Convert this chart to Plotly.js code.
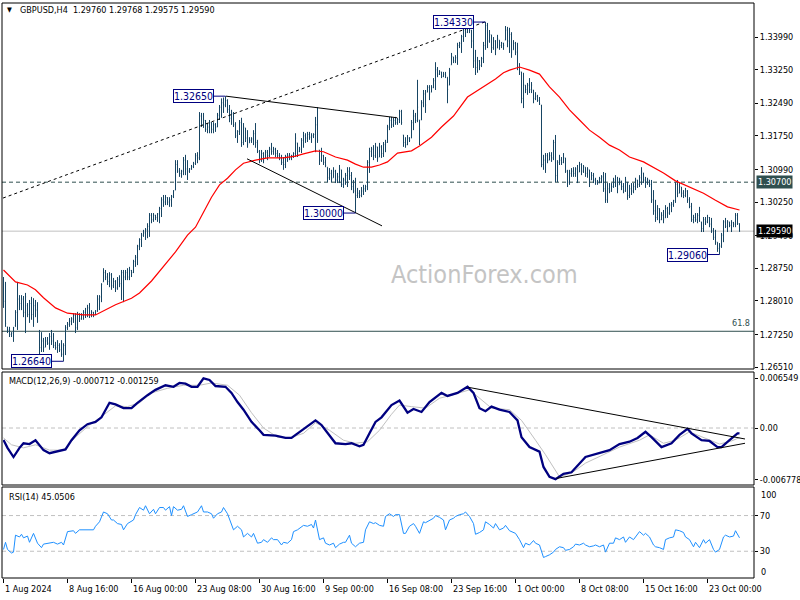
<!DOCTYPE html>
<html><head><meta charset="utf-8">
<script src="https://cdn.plot.ly/plotly-3.0.1.min.js"></script>
<style>html,body{margin:0;padding:0;background:#fff}#chart{width:800px;height:600px}</style>
</head><body><div id="chart"></div>
<script>
// ---------- DATA (GBPUSD H4, bar index 0 = 1 Aug 2024 00:00) ----------
const barOpen = [
1.2840,1.2800,1.2742,1.2735,1.2725,1.2728,1.2745,1.2775,1.2805,1.2795,
1.2805,1.2775,1.2790,1.2770,1.2795,1.2770,1.2790,1.2780,1.2730,1.2695,
1.2710,1.2696,1.2710,1.2705,1.2720,1.2710,1.2700,1.2695,1.2700,1.2690,
1.2680,1.2700,1.2740,1.2748,1.2755,1.2760,1.2768,1.2740,1.2770,1.2760,
1.2768,1.2775,1.2770,1.2785,1.2770,1.2775,1.2770,1.2778,1.2805,1.2810,
1.2844,1.2865,1.2855,1.2845,1.2860,1.2835,1.2845,1.2830,1.2850,1.2840,
1.2865,1.2855,1.2865,1.2855,1.2870,1.2865,1.2890,1.2900,1.2925,1.2940,
1.2950,1.2955,1.2962,1.2970,1.2995,1.2985,1.2995,1.2990,1.2998,1.3010,
1.3030,1.3025,1.3035,1.3025,1.3030,1.3038,1.3052,1.3110,1.3095,1.3090,
1.3095,1.3120,1.3100,1.3095,1.3100,1.3105,1.3112,1.3130,1.3125,1.3220,
1.3200,1.3210,1.3190,1.3195,1.3205,1.3190,1.3200,1.3195,1.3222,1.3240,
1.3250,1.3245,1.3255,1.3235,1.3215,1.3225,1.3200,1.3175,1.3185,1.3205,
1.3160,1.3193,1.3170,1.3159,1.3165,1.3168,1.3180,1.3160,1.3140,1.3120,
1.3135,1.3125,1.3138,1.3130,1.3145,1.3140,1.3145,1.3135,1.3130,1.3125,
1.3115,1.3110,1.3128,1.3130,1.3125,1.3130,1.3135,1.3159,1.3140,1.3145,
1.3165,1.3175,1.3170,1.3178,1.3172,1.3175,1.3178,1.3200,1.3143,1.3120,
1.3130,1.3115,1.3104,1.3080,1.3090,1.3080,1.3095,1.3075,1.3082,1.3098,
1.3065,1.3075,1.3085,1.3095,1.3085,1.3060,1.3050,1.3040,1.3045,1.3040,
1.3050,1.3055,1.3060,1.3115,1.3140,1.3145,1.3130,1.3150,1.3127,1.3150,
1.3135,1.3155,1.3160,1.3195,1.3210,1.3200,1.3210,1.3205,1.3212,1.3230,
1.3177,1.3160,1.3155,1.3170,1.3170,1.3205,1.3220,1.3210,1.3211,1.3211,
1.3250,1.3270,1.3274,1.3285,1.3274,1.3285,1.3300,1.3325,1.3315,1.3320,
1.3310,1.3315,1.3308,1.3290,1.3336,1.3354,1.3345,1.3352,1.3380,1.3385,
1.3400,1.3415,1.3410,1.3425,1.3415,1.3390,1.3345,1.3330,1.3345,1.3335,
1.3350,1.3380,1.3425,1.3390,1.3404,1.3375,1.3390,1.3374,1.3392,1.3380,
1.3385,1.3392,1.3415,1.3390,1.3405,1.3370,1.3385,1.3365,1.3330,1.3320,
1.3260,1.3290,1.3280,1.3290,1.3280,1.3279,1.3260,1.3265,1.3255,1.3245,
1.3110,1.3120,1.3130,1.3120,1.3130,1.3125,1.3160,1.3085,1.3115,1.3120,
1.3115,1.3125,1.3095,1.3070,1.3090,1.3095,1.3090,1.3100,1.3093,1.3110,
1.3095,1.3104,1.3090,1.3098,1.3075,1.3085,1.3075,1.3070,1.3068,1.3078,
1.3082,1.3055,1.3030,1.3055,1.3050,1.3060,1.3075,1.3070,1.3064,1.3073,
1.3060,1.3050,1.3070,1.3040,1.3055,1.3050,1.3060,1.3075,1.3065,1.3080,
1.3091,1.3075,1.3070,1.3075,1.3065,1.3030,1.3005,1.2990,1.3010,1.2985,
1.2995,1.2989,1.3010,1.3000,1.3018,1.3020,1.3028,1.3065,1.3045,1.3059,
1.3045,1.3040,1.3050,1.3030,1.3015,1.2985,1.2990,1.2985,1.2995,1.2980,
1.2965,1.2985,1.2980,1.2990,1.2975,1.2960,1.2945,1.2934,1.2920,1.2925,
1.2950,1.2980,1.2970,1.2980,1.2972,1.2978,1.2975,1.2995,1.2976];
const barHigh = [
1.2855,1.2844,1.2742,1.2742,1.2730,1.2742,1.2780,1.2844,1.2814,1.2814,
1.2812,1.2819,1.2796,1.2803,1.2810,1.2807,1.2803,1.2798,1.2735,1.2730,
1.2717,1.2719,1.2719,1.2728,1.2735,1.2728,1.2708,1.2712,1.2705,1.2712,
1.2705,1.2746,1.2753,1.2762,1.2764,1.2773,1.2773,1.2776,1.2773,1.2773,
1.2780,1.2785,1.2792,1.2796,1.2780,1.2776,1.2780,1.2814,1.2814,1.2841,
1.2875,1.2871,1.2864,1.2866,1.2864,1.2853,1.2848,1.2855,1.2859,1.2871,
1.2871,1.2871,1.2875,1.2878,1.2871,1.2894,1.2905,1.2928,1.2943,1.2955,
1.2962,1.2966,1.2977,1.3000,1.3000,1.3000,1.2996,1.3000,1.3014,1.3036,
1.3041,1.3041,1.3036,1.3036,1.3041,1.3052,1.3120,1.3120,1.3102,1.3098,
1.3127,1.3132,1.3120,1.3102,1.3109,1.3116,1.3136,1.3138,1.3229,1.3227,
1.3227,1.3211,1.3204,1.3211,1.3206,1.3206,1.3204,1.3227,1.3245,1.3260,
1.3262,1.3265,1.3258,1.3245,1.3234,1.3229,1.3206,1.3188,1.3211,1.3216,
1.3204,1.3193,1.3188,1.3172,1.3172,1.3188,1.3204,1.3166,1.3143,1.3143,
1.3138,1.3143,1.3143,1.3150,1.3159,1.3150,1.3148,1.3143,1.3136,1.3132,
1.3127,1.3132,1.3136,1.3136,1.3132,1.3138,1.3181,1.3159,1.3150,1.3170,
1.3184,1.3181,1.3184,1.3184,1.3181,1.3181,1.3218,1.3240,1.3143,1.3148,
1.3132,1.3127,1.3104,1.3102,1.3098,1.3104,1.3098,1.3091,1.3109,1.3098,
1.3080,1.3091,1.3104,1.3104,1.3093,1.3075,1.3080,1.3057,1.3052,1.3059,
1.3064,1.3064,1.3120,1.3148,1.3150,1.3154,1.3159,1.3150,1.3159,1.3154,
1.3161,1.3166,1.3200,1.3218,1.3218,1.3216,1.3218,1.3216,1.3234,1.3234,
1.3177,1.3172,1.3177,1.3172,1.3211,1.3234,1.3227,1.3302,1.3211,1.3256,
1.3279,1.3279,1.3290,1.3290,1.3290,1.3306,1.3342,1.3331,1.3324,1.3320,
1.3320,1.3320,1.3308,1.3329,1.3363,1.3354,1.3358,1.3386,1.3388,1.3404,
1.3420,1.3422,1.3431,1.3426,1.3415,1.3431,1.3370,1.3354,1.3347,1.3354,
1.3388,1.3433,1.3431,1.3415,1.3404,1.3399,1.3392,1.3404,1.3392,1.3388,
1.3386,1.3424,1.3422,1.3420,1.3410,1.3392,1.3388,1.3386,1.3340,1.3320,
1.3318,1.3290,1.3295,1.3306,1.3297,1.3279,1.3274,1.3268,1.3263,1.3245,
1.3132,1.3136,1.3136,1.3138,1.3138,1.3166,1.3177,1.3120,1.3132,1.3127,
1.3136,1.3125,1.3098,1.3098,1.3102,1.3104,1.3104,1.3109,1.3116,1.3113,
1.3109,1.3104,1.3104,1.3098,1.3093,1.3091,1.3080,1.3075,1.3082,1.3086,
1.3093,1.3091,1.3068,1.3068,1.3068,1.3080,1.3086,1.3082,1.3080,1.3073,
1.3068,1.3082,1.3070,1.3064,1.3068,1.3068,1.3080,1.3075,1.3086,1.3104,
1.3091,1.3082,1.3080,1.3075,1.3075,1.3052,1.3030,1.3018,1.3011,1.3002,
1.3007,1.3018,1.3014,1.3023,1.3025,1.3030,1.3070,1.3075,1.3068,1.3059,
1.3052,1.3057,1.3052,1.3036,1.3023,1.2996,1.3000,1.3000,1.3014,1.2980,
1.2991,1.2991,1.2996,1.2991,1.2989,1.2966,1.2962,1.2934,1.2932,1.2955,
1.2984,1.2989,1.2984,1.2980,1.2984,1.2980,1.3000,1.3000,1.29768];
const barLow = [
1.2785,1.2742,1.2728,1.2719,1.2719,1.2708,1.2742,1.2735,1.2780,1.2780,
1.2764,1.2728,1.2764,1.2751,1.2758,1.2742,1.2764,1.2751,1.2678,1.2685,
1.2685,1.2696,1.2701,1.2690,1.2701,1.2694,1.2690,1.2683,1.2685,1.2674,
1.2664,1.2678,1.2735,1.2742,1.2746,1.2751,1.2728,1.2735,1.2753,1.2758,
1.2758,1.2762,1.2764,1.2762,1.2764,1.2764,1.2769,1.2776,1.2780,1.2798,
1.2844,1.2848,1.2837,1.2832,1.2826,1.2830,1.2821,1.2826,1.2832,1.2803,
1.2798,1.2848,1.2848,1.2848,1.2855,1.2864,1.2878,1.2882,1.2916,1.2923,
1.2946,1.2939,1.2943,1.2946,1.2977,1.2980,1.2984,1.2980,1.2977,1.2991,
1.3014,1.3018,1.3018,1.3014,1.3014,1.3034,1.3052,1.3091,1.3082,1.3080,
1.3086,1.3086,1.3075,1.3091,1.3098,1.3102,1.3109,1.3113,1.3120,1.3195,
1.3193,1.3184,1.3181,1.3181,1.3181,1.3181,1.3184,1.3195,1.3211,1.3216,
1.3227,1.3240,1.3227,1.3206,1.3200,1.3195,1.3170,1.3159,1.3177,1.3150,
1.3154,1.3161,1.3148,1.3159,1.3159,1.3154,1.3148,1.3136,1.3113,1.3116,
1.3113,1.3125,1.3120,1.3127,1.3132,1.3132,1.3127,1.3125,1.3120,1.3109,
1.3098,1.3102,1.3116,1.3120,1.3120,1.3125,1.3127,1.3127,1.3138,1.3136,
1.3148,1.3159,1.3161,1.3166,1.3159,1.3170,1.3138,1.3159,1.3109,1.3116,
1.3109,1.3104,1.3070,1.3075,1.3070,1.3080,1.3068,1.3068,1.3068,1.3059,
1.3057,1.3064,1.3059,1.3075,1.3052,1.3045,1.3000,1.3034,1.3034,1.3036,
1.3041,1.3048,1.3052,1.3091,1.3127,1.3120,1.3125,1.3116,1.3127,1.3125,
1.3127,1.3138,1.3159,1.3188,1.3193,1.3195,1.3200,1.3200,1.3204,1.3200,
1.3150,1.3148,1.3154,1.3161,1.3170,1.3188,1.3204,1.3206,1.3154,1.3211,
1.3240,1.3227,1.3274,1.3256,1.3274,1.3283,1.3279,1.3308,1.3313,1.3306,
1.3308,1.3306,1.3249,1.3290,1.3336,1.3340,1.3340,1.3336,1.3374,1.3363,
1.3388,1.3399,1.3408,1.3408,1.3374,1.3329,1.3313,1.3318,1.3324,1.3331,
1.3340,1.3370,1.3374,1.3386,1.3363,1.3370,1.3358,1.3374,1.3370,1.3374,
1.3370,1.3392,1.3376,1.3363,1.3352,1.3370,1.3358,1.3324,1.3313,1.3249,
1.3238,1.3272,1.3268,1.3272,1.3272,1.3249,1.3256,1.3252,1.3245,1.3104,
1.3098,1.3091,1.3113,1.3120,1.3116,1.3120,1.3070,1.3070,1.3109,1.3109,
1.3113,1.3091,1.3059,1.3064,1.3082,1.3082,1.3082,1.3068,1.3093,1.3086,
1.3091,1.3082,1.3080,1.3059,1.3075,1.3068,1.3064,1.3064,1.3068,1.3068,
1.3048,1.3023,1.3023,1.3045,1.3048,1.3057,1.3059,1.3045,1.3064,1.3052,
1.3045,1.3048,1.3030,1.3034,1.3041,1.3045,1.3052,1.3057,1.3059,1.3064,
1.3068,1.3057,1.3064,1.3059,1.3023,1.2996,1.2980,1.2984,1.2977,1.2984,
1.2977,1.2989,1.2989,1.2996,1.3002,1.3014,1.3023,1.3036,1.3045,1.3036,
1.3034,1.3036,1.3023,1.3011,1.2980,1.2977,1.2980,1.2977,1.2980,1.2957,
1.2957,1.2973,1.2977,1.2968,1.2955,1.2939,1.2928,1.2912,1.2906,1.2921,
1.2934,1.2966,1.2957,1.2968,1.2957,1.2968,1.2968,1.2973,1.29575];
const barClose = [
1.2800,1.2750,1.2735,1.2725,1.2728,1.2740,1.2775,1.2805,1.2795,1.2805,
1.2775,1.2810,1.2770,1.2795,1.2770,1.2790,1.2780,1.2755,1.2695,1.2710,
1.2695,1.2710,1.2705,1.2720,1.2710,1.2700,1.2695,1.2700,1.2690,1.2680,
1.2700,1.2740,1.2748,1.2755,1.2760,1.2768,1.2740,1.2770,1.2760,1.2768,
1.2775,1.2770,1.2785,1.2770,1.2775,1.2768,1.2778,1.2805,1.2810,1.2838,
1.2865,1.2855,1.2845,1.2860,1.2835,1.2845,1.2830,1.2850,1.2840,1.2865,
1.2855,1.2865,1.2855,1.2870,1.2865,1.2890,1.2900,1.2925,1.2940,1.2950,
1.2955,1.2962,1.2970,1.2995,1.2985,1.2995,1.2990,1.2998,1.3010,1.3030,
1.3025,1.3035,1.3025,1.3030,1.3038,1.3050,1.3110,1.3095,1.3090,1.3095,
1.3120,1.3100,1.3095,1.3100,1.3105,1.3112,1.3130,1.3125,1.3220,1.3200,
1.3210,1.3190,1.3195,1.3205,1.3190,1.3200,1.3195,1.3222,1.3240,1.3250,
1.3245,1.3255,1.3235,1.3215,1.3225,1.3200,1.3175,1.3185,1.3205,1.3160,
1.3195,1.3170,1.3155,1.3165,1.3168,1.3180,1.3160,1.3140,1.3120,1.3135,
1.3120,1.3138,1.3130,1.3145,1.3140,1.3145,1.3135,1.3130,1.3125,1.3115,
1.3110,1.3128,1.3130,1.3125,1.3130,1.3135,1.3170,1.3140,1.3145,1.3165,
1.3175,1.3170,1.3178,1.3172,1.3175,1.3178,1.3200,1.3165,1.3120,1.3130,
1.3115,1.3108,1.3080,1.3090,1.3078,1.3095,1.3075,1.3082,1.3100,1.3065,
1.3075,1.3085,1.3095,1.3085,1.3060,1.3050,1.3040,1.3045,1.3040,1.3050,
1.3055,1.3060,1.3115,1.3140,1.3145,1.3130,1.3150,1.3125,1.3150,1.3135,
1.3155,1.3160,1.3195,1.3210,1.3200,1.3210,1.3205,1.3212,1.3230,1.3205,
1.3160,1.3155,1.3170,1.3165,1.3205,1.3220,1.3210,1.3240,1.3190,1.3250,
1.3270,1.3245,1.3285,1.3270,1.3285,1.3300,1.3325,1.3315,1.3320,1.3310,
1.3315,1.3312,1.3280,1.3325,1.3355,1.3345,1.3352,1.3380,1.3385,1.3400,
1.3415,1.3410,1.3425,1.3415,1.3390,1.3345,1.3330,1.3345,1.3335,1.3350,
1.3380,1.3425,1.3390,1.3405,1.3375,1.3390,1.3370,1.3395,1.3380,1.3385,
1.3380,1.3415,1.3390,1.3405,1.3365,1.3385,1.3365,1.3330,1.3320,1.3260,
1.3290,1.3280,1.3290,1.3280,1.3290,1.3260,1.3265,1.3255,1.3248,1.3110,
1.3120,1.3130,1.3120,1.3130,1.3125,1.3160,1.3085,1.3115,1.3120,1.3115,
1.3125,1.3095,1.3070,1.3090,1.3095,1.3090,1.3100,1.3075,1.3110,1.3095,
1.3105,1.3090,1.3100,1.3070,1.3085,1.3075,1.3070,1.3068,1.3078,1.3082,
1.3055,1.3030,1.3055,1.3050,1.3060,1.3075,1.3070,1.3055,1.3075,1.3060,
1.3050,1.3075,1.3040,1.3055,1.3050,1.3060,1.3075,1.3065,1.3080,1.3095,
1.3075,1.3070,1.3075,1.3065,1.3030,1.3005,1.2990,1.3010,1.2985,1.2995,
1.2985,1.3010,1.3000,1.3018,1.3020,1.3028,1.3065,1.3045,1.3060,1.3045,
1.3040,1.3050,1.3030,1.3015,1.2985,1.2990,1.2985,1.2995,1.3005,1.2965,
1.2985,1.2980,1.2990,1.2975,1.2960,1.2945,1.2935,1.2920,1.2925,1.2950,
1.2980,1.2970,1.2980,1.2972,1.2978,1.2975,1.2995,1.2976,1.2959];

// moving average (red) read at bar indices
const maIdx = [0,6,12,16,20,26,32,40,46,50,56,64,68,74,80,86,92,96,100,104,108,112,116,120,126,132,140,146,150,156,160,166,172,176,180,184,188,192,197,204,208,214,219,225,232,240,246,250,253,258,263,268,273,278,283,288,293,298,303,308,313,320,325,330,336,343,350,356,362,368];
const maVal = [1.2871,1.2844,1.2837,1.2826,1.2808,1.2785,1.2773,1.2769,1.2769,1.2778,1.2792,1.2807,1.2819,1.2846,1.2878,1.2912,1.2950,1.2968,1.3002,1.3036,1.3064,1.3079,1.3098,1.3113,1.3120,1.3125,1.3125,1.3129,1.3134,1.3141,1.3139,1.3127,1.3120,1.3111,1.3104,1.3104,1.3109,1.3116,1.3136,1.3141,1.3152,1.3172,1.3195,1.3220,1.3263,1.3286,1.3304,1.3318,1.3324,1.3331,1.3324,1.3315,1.3286,1.3263,1.3234,1.3211,1.3188,1.3172,1.3154,1.3143,1.3127,1.3116,1.3104,1.3091,1.3073,1.3059,1.3045,1.3029,1.3014,1.3007];

// MACD(12,26,9) main line and signal line
const macdIdx = [0,2,5,8,10,13,16,20,23,27,31,34,38,42,46,49,53,56,60,64,67,72,76,81,85,88,91,94,97,100,103,106,111,114,117,120,124,128,130,136,141,144,149,154,156,159,163,166,171,174,178,180,183,186,189,194,198,202,205,209,213,219,222,227,232,235,238,241,244,248,253,257,259,263,268,270,273,276,280,284,291,298,303,308,313,317,321,324,329,334,338,342,344,349,353,357,359,363,365,367,368];
const macdVal = [-0.00157,-0.0026,-0.0038,-0.0026,-0.0020,-0.0021,-0.0016,-0.0029,-0.0033,-0.0030,-0.0028,-0.0016,-0.0003,0.0005,0.0008,0.0014,0.0033,0.0031,0.0026,0.0026,0.0033,0.0043,0.0050,0.0056,0.0054,0.0059,0.0058,0.0054,0.0054,0.0065,0.0063,0.0055,0.0054,0.0046,0.0034,0.0024,0.0008,-0.0003,-0.0009,-0.0010,-0.0013,-0.0013,-0.0003,0.0007,0.0010,0.0004,-0.0009,-0.0020,-0.0021,-0.0020,-0.0024,-0.0022,-0.0007,0.0008,0.0014,0.0030,0.0036,0.0020,0.0025,0.0021,0.0034,0.0046,0.0042,0.0046,0.0054,0.0046,0.0026,0.0022,0.0028,0.0024,0.0021,0.0010,-0.0012,-0.0025,-0.0031,-0.0051,-0.0064,-0.0067,-0.0060,-0.0058,-0.0038,-0.0033,-0.0029,-0.0021,-0.0018,-0.0013,-0.0005,-0.0012,-0.0025,-0.0020,-0.0009,-0.0001,-0.0007,-0.0016,-0.0017,-0.0025,-0.0025,-0.0016,-0.0012,-0.0007,-0.000712];
const sigIdx = [0,4,10,16,23,30,36,43,50,56,62,68,74,82,90,98,104,112,118,124,130,137,143,150,156,163,170,176,182,188,194,198,204,211,218,224,233,238,244,253,259,266,271,278,284,291,298,308,318,323,330,336,343,350,358,364,368];
const sigVal = [-0.0013,-0.0022,-0.0026,-0.0022,-0.0029,-0.0029,-0.0012,0.0004,0.0017,0.0029,0.0028,0.0033,0.0046,0.0052,0.0056,0.0056,0.0059,0.0056,0.0043,0.0020,0.0000,-0.0012,-0.0013,-0.0007,0.0007,-0.0003,-0.0016,-0.0020,-0.0018,-0.0003,0.0018,0.0030,0.0028,0.0026,0.0039,0.0043,0.0050,0.0039,0.0026,0.0024,0.0010,-0.0016,-0.0035,-0.0064,-0.0059,-0.0046,-0.0037,-0.0025,-0.0016,-0.0009,-0.0020,-0.0016,-0.0005,-0.0012,-0.0021,-0.0017,-0.001259];

// RSI(14)
const rsiIdx = [0,1,2,4,5,6,8,9,10,12,13,15,17,19,20,23,25,27,29,30,32,35,36,38,41,45,46,48,50,52,54,55,57,59,60,62,65,66,68,70,71,73,75,76,78,80,81,83,84,85,87,89,90,92,94,95,97,99,100,102,104,105,107,109,110,112,114,115,117,119,120,122,124,125,127,129,130,132,134,135,137,139,140,142,144,145,147,149,150,152,154,155,156,158,160,161,163,165,166,168,170,171,173,174,176,178,180,181,183,185,186,188,190,191,193,195,196,198,200,201,203,205,206,208,210,211,213,215,216,218,220,221,223,225,226,228,230,231,233,235,236,238,240,241,243,245,246,248,250,251,253,255,256,258,260,261,263,265,266,268,270,271,273,275,276,278,280,281,283,285,286,288,290,291,293,295,296,298,300,301,303,305,306,308,310,311,313,315,316,318,320,321,323,325,326,328,330,331,333,335,336,338,340,341,343,345,346,348,350,351,353,355,356,358,360,361,363,365,366,368];
const rsiVal = [
32,40,32,28,29,48,46,49,45,47,
40,50,39,34,38,39,40,38,40,37,
52,53,50,54,54,54,58,63,74,72,
65,65,61,60,54,61,65,71,79,76,
81,72,77,72,79,79,76,80,70,80,
76,77,81,69,71,72,74,81,74,74,
72,67,72,74,79,72,61,54,58,54,
46,50,46,50,39,40,43,40,45,43,
43,37,40,39,43,52,54,57,59,58,
60,56,65,43,45,39,37,39,34,38,
40,40,48,39,35,39,40,54,63,61,
62,59,58,69,72,69,71,71,50,50,
58,61,58,50,63,62,65,67,70,68,
65,54,65,67,69,71,72,74,69,61,
49,51,54,63,60,56,61,54,56,59,
53,51,50,43,34,39,37,42,39,37,
23,24,26,29,32,35,34,31,32,35,
38,37,39,37,35,36,37,35,37,29,
39,39,45,43,46,40,46,43,46,52,
48,50,46,37,35,34,32,43,45,46,
54,53,51,46,43,35,40,34,43,39,
43,32,29,32,46,48,46,47,53,45.0506];

// drawn objects (bar index, value)
const trendFrom = [[-0.25,1.3034],[111.25,1.3265],[121.75,1.3123]];
const trendTo   = [[241.75,1.3435],[196.75,1.3216],[189.25,1.2971]];
const macdTrendFrom = [[232.4,0.00533],[276.6,-0.0066]];
const macdTrendTo   = [[370.75,-0.00144],[370.75,-0.0020]];
const labelIdx = [30,111,176,241,358];
const labelPrice = [1.2664,1.3265,1.3000,1.3433,1.2906];
const levelResist = 1.3070, levelBid = 1.2959, levelFib = 1.2732;
const rsiLevels = [70, 30];

// axes
const xTickIdx = [0,32,64,96,128,160,192,224,256,288,320,352];
const xTickText = ['1 Aug 2024','8 Aug 16:00','16 Aug 00:00','23 Aug 08:00','30 Aug 16:00','9 Sep 00:00','16 Sep 08:00','23 Sep 16:00','1 Oct 00:00','8 Oct 08:00','15 Oct 16:00','23 Oct 00:00'];
const priceTicks = [1.3399,1.3325,1.3249,1.3175,1.3099,1.3025,1.2949,1.2875,1.2801,1.2725,1.2651];
const macdTicks = [0.006549,0,-0.006778];
const macdTickText = ['0.006549','0.00','-0.006778'];
const rsiEdgeText = ['100', '0'];

// ---------- DRAW ----------
const W = 800, H = 600;
const px = v => v / W, py = v => 1 - v / H;
const FONT = 'DejaVu Sans Condensed, Noto Sans, DejaVu Sans, sans-serif';
const BAR = '#174563';
const idx = barOpen.map((_, i) => i);

const traces = [
  {type:'ohlc', x: idx, open: barOpen, high: barHigh, low: barLow, close: barClose,
   xaxis:'x', yaxis:'y', tickwidth:0.3, hoverinfo:'skip', showlegend:false,
   increasing:{line:{color:BAR, width:1}}, decreasing:{line:{color:BAR, width:1}}},
  {type:'scatter', mode:'lines', x: maIdx, y: maVal, xaxis:'x', yaxis:'y',
   line:{color:'#ff0000', width:1.2}, hoverinfo:'skip', showlegend:false},
  {type:'scatter', mode:'lines', x: sigIdx, y: sigVal, xaxis:'x', yaxis:'y2',
   line:{color:'#c0c0c0', width:1}, hoverinfo:'skip', showlegend:false},
  {type:'scatter', mode:'lines', x: macdIdx, y: macdVal, xaxis:'x', yaxis:'y2',
   line:{color:'#000080', width:2.3}, hoverinfo:'skip', showlegend:false},
  {type:'scatter', mode:'lines', x: rsiIdx, y: rsiVal, xaxis:'x', yaxis:'y3',
   line:{color:'#1e90ff', width:1}, hoverinfo:'skip', showlegend:false}
];

const shapes = [];
[[3,369],[372,485],[487,578]].forEach(([t,b]) => shapes.push({type:'rect', xref:'paper', yref:'paper',
  x0:px(2), x1:px(754), y0:py(b), y1:py(t), line:{color:'#000', width:1}}));
shapes.push({type:'line', xref:'paper', yref:'y', x0:px(2), x1:px(754), y0:levelBid, y1:levelBid, line:{color:'#c0c0c0', width:1}, layer:'below'});
shapes.push({type:'line', xref:'paper', yref:'y', x0:px(2), x1:px(754), y0:levelResist, y1:levelResist, line:{color:'#2f4f4f', width:1, dash:'4px,3px'}, layer:'below'});
shapes.push({type:'line', xref:'paper', yref:'y', x0:px(2), x1:px(754), y0:levelFib, y1:levelFib, line:{color:'#2f4f4f', width:1}, layer:'below'});
shapes.push({type:'line', xref:'paper', yref:'y2', x0:px(2), x1:px(754), y0:0, y1:0, line:{color:'#c0c0c0', width:1, dash:'4px,3px'}, layer:'below'});
rsiLevels.forEach(v => shapes.push({type:'line', xref:'paper', yref:'y3', x0:px(2), x1:px(754), y0:v, y1:v, line:{color:'#c0c0c0', width:1, dash:'4px,3px'}, layer:'below'}));
trendFrom.forEach((f, k) => shapes.push({type:'line', xref:'x', yref:'y', x0:f[0], y0:f[1], x1:trendTo[k][0], y1:trendTo[k][1],
  line:{color:'#000', width:1, dash: k === 0 ? '3px,3px' : 'solid'}}));
macdTrendFrom.forEach((f, k) => shapes.push({type:'line', xref:'x', yref:'y2', x0:f[0], y0:f[1], x1:macdTrendTo[k][0], y1:macdTrendTo[k][1],
  line:{color:'#000', width:1}}));

const ann = [];
const txt = (text, x, y, opts) => ann.push(Object.assign({text, x, y, xref:'paper', yref:'paper', showarrow:false,
  xanchor:'left', yanchor:'middle', font:{family:FONT, size:9, color:'#000'}}, opts || {}));
txt('\u25BC', px(5), py(10), {font:{family:FONT, size:7, color:'#000'}});
txt('GBPUSD,H4\u00a0\u00a0' + [barOpen[368], barHigh[368], barLow[368], barClose[368]].map(v => v.toFixed(5)).join(' '), px(18), py(10));
txt('MACD(12,26,9) ' + macdVal[macdVal.length-1].toFixed(6) + ' ' + sigVal[sigVal.length-1].toFixed(6), px(7), py(381));
txt('RSI(14) ' + rsiVal[rsiVal.length-1].toFixed(4), px(7), py(497));
txt('ActionForex.com', px(485), py(274), {xanchor:'center', font:{family:FONT, size:25, color:'#c4c4c4'}});
txt('61.8', px(752), levelFib, {yref:'y', xanchor:'right', yanchor:'bottom', yshift:1, font:{family:FONT, size:9, color:'#2f4f4f'}});
xTickIdx.forEach((v, k) => txt(xTickText[k], v, py(589), {xref:'x', xshift:-1}));
// RSI window edge labels (drawn just inside the window, as the terminal does)
txt(rsiEdgeText[0], px(759), py(495));
txt(rsiEdgeText[1], px(759), py(572));
// price markers on the scale
txt(levelResist.toFixed(5), px(756), levelResist, {yref:'y', bgcolor:'#2f4f4f', borderpad:1, font:{family:FONT, size:9, color:'#fff'}});
txt(barClose[368].toFixed(5), px(756), barClose[368], {yref:'y', bgcolor:'#000', borderpad:1, font:{family:FONT, size:9, color:'#fff'}});
// boxed price labels with leaders
labelIdx.forEach((v, k) => ann.push({x:v, y:labelPrice[k], xref:'x', yref:'y', text:labelPrice[k].toFixed(5),
  showarrow:true, arrowhead:0, arrowwidth:1, arrowcolor:'#000080', ax:-32, ay:0, standoff:0,
  bordercolor:'#000080', borderwidth:1, borderpad:0, bgcolor:'#fff',
  font:{family:FONT, size:10.5, color:'#000080'}}));

const axisCommon = {anchor:'x', side:'right', showgrid:false, zeroline:false, showline:false,
  ticks:'outside', ticklen:3, tickcolor:'#000', tickfont:{family:FONT, size:9, color:'#000'}, fixedrange:true};

const layout = {
  width:W, height:H, margin:{l:0, r:0, t:0, b:0}, paper_bgcolor:'#fff', plot_bgcolor:'#fff',
  showlegend:false, dragmode:false,
  xaxis:{domain:[px(3), px(754)], range:[-0.25, 375.25], anchor:'y3', showgrid:false, zeroline:false,
    showline:false, showticklabels:false, ticks:'outside', ticklen:4, tickcolor:'#000',
    tickvals:xTickIdx, rangeslider:{visible:false}, fixedrange:true},
  yaxis:Object.assign({}, axisCommon, {domain:[py(369), py(3)], range:[1.26465, 1.34762],
    tickvals:priceTicks, ticktext:priceTicks.map(v => v.toFixed(5))}),
  yaxis2:Object.assign({}, axisCommon, {domain:[py(485), py(372)], range:[-0.007467, 0.007336],
    tickvals:macdTicks, ticktext:macdTickText}),
  yaxis3:Object.assign({}, axisCommon, {domain:[py(578), py(487)], range:[0, 102],
    tickvals:rsiLevels, ticktext:rsiLevels.map(String)}),
  shapes, annotations: ann
};

Plotly.newPlot('chart', traces, layout, {staticPlot:true, displayModeBar:false});
</script>
</body></html>
